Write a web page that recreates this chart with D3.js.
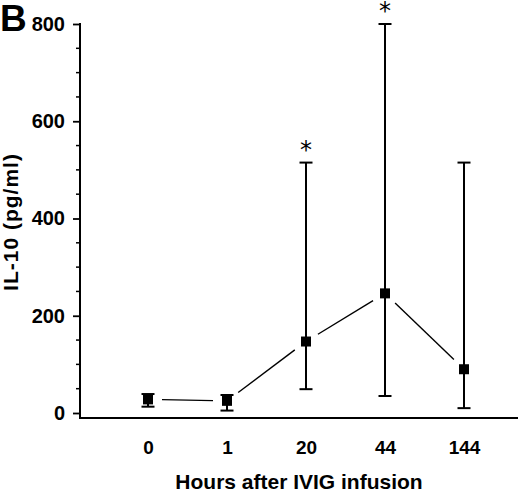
<!DOCTYPE html>
<html>
<head>
<meta charset="utf-8">
<script src="https://cdn.jsdelivr.net/npm/d3@7"></script>
<style>
    body { margin: 0; background: #fff; }
    svg { display: block; font-family: "Liberation Sans", Arial, sans-serif; font-weight: bold; }
</style>
</head>
<body>
<div id="chart"></div>
<script>
// IL-10 after IVIG infusion
const hours = ['0', '1', '20', '44', '144'];
const il10Mean = [28, 25, 147, 246, 90];
const il10Upper = [39, 37, 515, 800, 515];
const il10Lower = [13, 5, 49, 35, 10];
const significant = [false, false, true, true, false];
const yTicks = [0, 200, 400, 600, 800];
const yMinorTicks = [50, 100, 150, 250, 300, 350, 450, 500, 550, 650, 700, 750];

const width = 520;
const height = 492;

const svg = d3.select('#chart').append('svg')
    .attr('width', width)
    .attr('height', height);

const x = d3.scalePoint().domain(hours).range([148, 464]);
const y = d3.scaleLinear().domain([0, 800]).range([413, 24]);
const axisX = 80;
const baseY = 418;

// Y axis
const yAxis = svg.append('g')
    .attr('transform', `translate(${axisX},0)`)
    .call(d3.axisLeft(y).tickValues(yTicks).tickSize(7).tickPadding(8).tickSizeOuter(0));
yAxis.select('.domain').remove();
yAxis.selectAll('.tick line').attr('stroke', '#000').attr('stroke-width', 1.8);
yAxis.selectAll('.tick text')
    .attr('fill', '#000')
    .style('font-size', '20px')
    .style('font-weight', 'bold')
    .style('font-family', '"Liberation Sans", Arial, sans-serif');

// minor ticks
svg.append('g').selectAll('line')
    .data(yMinorTicks)
    .enter().append('line')
    .attr('x1', axisX - 4)
    .attr('x2', axisX)
    .attr('y1', d => y(d))
    .attr('y2', d => y(d))
    .attr('stroke', '#000')
    .attr('stroke-width', 1.5);

svg.append('line')
    .attr('x1', axisX).attr('x2', axisX)
    .attr('y1', y(800) - 1).attr('y2', baseY + 1)
    .attr('stroke', '#000').attr('stroke-width', 2);

// X axis: plain line, labels only
svg.append('line')
    .attr('x1', axisX - 1).attr('x2', 518)
    .attr('y1', baseY).attr('y2', baseY)
    .attr('stroke', '#000').attr('stroke-width', 2);

const xAxis = svg.append('g')
    .attr('transform', `translate(0,${baseY})`)
    .call(d3.axisBottom(x).tickSize(0).tickPadding(0));
xAxis.select('.domain').remove();
xAxis.selectAll('.tick text')
    .attr('y', 36)
    .attr('dy', null)
    .attr('fill', '#000')
    .style('font-size', '19px')
    .style('font-weight', 'bold')
    .style('font-family', '"Liberation Sans", Arial, sans-serif');

// Connecting line segments, with a gap near each marker
const gap = 14;
const pts = hours.map((h, i) => ({ x: x(h), y: y(il10Mean[i]) }));
const segments = d3.pairs(pts).map(([a, b]) => {
    const len = Math.hypot(b.x - a.x, b.y - a.y);
    const ux = (b.x - a.x) / len;
    const uy = (b.y - a.y) / len;
    return { x1: a.x + ux * gap, y1: a.y + uy * gap, x2: b.x - ux * gap, y2: b.y - uy * gap };
});
svg.append('g').selectAll('line')
    .data(segments)
    .enter().append('line')
    .attr('x1', d => d.x1).attr('y1', d => d.y1)
    .attr('x2', d => d.x2).attr('y2', d => d.y2)
    .attr('stroke', '#000')
    .attr('stroke-width', 1.4);

// Error bars
const capW = 13;
const bars = svg.append('g').selectAll('g')
    .data(hours)
    .enter().append('g');
bars.append('line')
    .attr('x1', d => x(d)).attr('x2', d => x(d))
    .attr('y1', (d, i) => y(il10Upper[i]))
    .attr('y2', (d, i) => y(il10Lower[i]))
    .attr('stroke', '#000').attr('stroke-width', 2);
bars.append('line')
    .attr('x1', d => x(d) - capW / 2).attr('x2', d => x(d) + capW / 2)
    .attr('y1', (d, i) => y(il10Upper[i]))
    .attr('y2', (d, i) => y(il10Upper[i]))
    .attr('stroke', '#000').attr('stroke-width', 2);
bars.append('line')
    .attr('x1', d => x(d) - capW / 2).attr('x2', d => x(d) + capW / 2)
    .attr('y1', (d, i) => y(il10Lower[i]))
    .attr('y2', (d, i) => y(il10Lower[i]))
    .attr('stroke', '#000').attr('stroke-width', 2);

// Markers
const size = 10;
bars.append('rect')
    .attr('x', d => x(d) - size / 2)
    .attr('y', (d, i) => y(il10Mean[i]) - size / 2)
    .attr('width', size)
    .attr('height', size)
    .attr('fill', '#000');

// Significance asterisks
svg.append('g').selectAll('text')
    .data(hours.filter((h, i) => significant[i]))
    .enter().append('text')
    .attr('x', d => x(d))
    .attr('y', d => y(il10Upper[hours.indexOf(d)]) - 5)
    .attr('text-anchor', 'middle')
    .style('font-size', '24px')
    .style('font-weight', 'normal')
    .style('font-family', '"DejaVu Sans", sans-serif')
    .text('*');

// Titles
svg.append('text')
    .attr('transform', 'translate(18,222) rotate(-90)')
    .attr('text-anchor', 'middle')
    .style('font-size', '21px')
    .style('letter-spacing', '1px')
    .text('IL-10 (pg/ml)');

svg.append('text')
    .attr('x', 299)
    .attr('y', 489)
    .attr('text-anchor', 'middle')
    .style('font-size', '21px')
    .text('Hours after IVIG infusion');

svg.append('text')
    .attr('x', 0)
    .attr('y', 31)
    .style('font-size', '37px')
    .text('B');
</script>
</body>
</html>
